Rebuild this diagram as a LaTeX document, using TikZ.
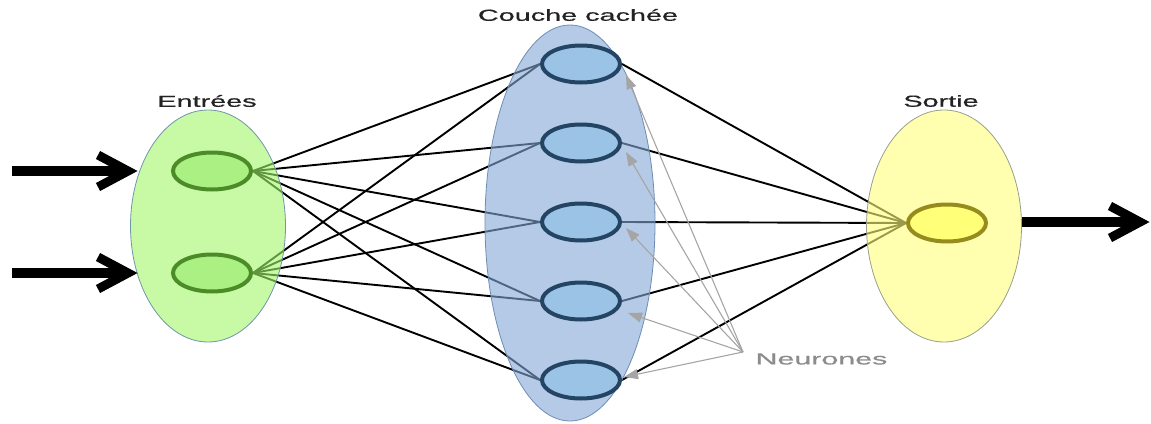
\documentclass[tikz,border=0pt]{standalone}
\usepackage{fontspec}
\setmainfont{Liberation Sans}
\usetikzlibrary{arrows.meta,calc,shapes.geometric}

\definecolor{inShade}{RGB}{163,247,105}
\definecolor{inEdge}{RGB}{110,150,170}
\definecolor{inCell}{RGB}{170,240,130}
\definecolor{inRim}{RGB}{75,140,40}
\definecolor{hidShade}{RGB}{130,167,213}
\definecolor{hidEdge}{RGB}{110,140,180}
\definecolor{hidCell}{RGB}{155,195,230}
\definecolor{hidRim}{RGB}{35,68,98}
\definecolor{outShade}{RGB}{255,255,122}
\definecolor{outEdge}{RGB}{150,160,140}
\definecolor{outCell}{RGB}{255,255,120}
\definecolor{outRim}{RGB}{150,140,30}
\definecolor{labelGray}{RGB}{140,140,140}
\definecolor{pointerGray}{RGB}{165,165,165}
\definecolor{titleInk}{RGB}{35,35,35}

\pgfdeclarelayer{wires}
\pgfdeclarelayer{shade}
\pgfdeclarelayer{pointers}
\pgfsetlayers{wires,shade,main,pointers}

\newcommand{\wide}[2][1.8]{\scalebox{#1}[1]{#2}}

\tikzset{
  layerbox/.style={ellipse, inner sep=0pt, line width=0.8pt, fill opacity=0.6},
  cell/.style={ellipse, inner sep=0pt, minimum width=78pt, minimum height=37pt, line width=4pt},
  wire/.style={line width=1.9pt, black},
  pointer/.style={pointerGray, line width=1.1pt, -{Triangle[length=14pt,width=10pt]}},
  shaft/.style={line width=10pt},
  chevron/.style={line width=9pt, line join=miter, miter limit=10},
  title/.style={text=titleInk, font=\fontsize{16}{19}\selectfont\addfontfeature{FakeBold=0.5}},
}

\begin{document}
\begin{tikzpicture}[x=1pt,y=-1pt]
\useasboundingbox (0,0) rectangle (1151,423);

% neurons
\node[cell, fill=inCell, draw=inRim] (i1) at (212,171) {};
\node[cell, fill=inCell, draw=inRim] (i2) at (212,273) {};
\foreach \k/\y in {1/64,2/143,3/222,4/301,5/380}
  \node[cell, fill=hidCell, draw=hidRim] (h\k) at (581,\y) {};
\node[cell, fill=outCell, draw=outRim] (o) at (947,223) {};

% translucent layer ellipses
\begin{pgfonlayer}{shade}
\node[layerbox, fill=inShade, draw=inEdge, minimum width=155pt, minimum height=232pt] (Lin) at (208,226) {};
\node[layerbox, fill=hidShade, draw=hidEdge, minimum width=170pt, minimum height=396pt] (Lhid) at (570,223) {};
\node[layerbox, fill=outShade, draw=outEdge, minimum width=155pt, minimum height=232pt] (Lout) at (944,226) {};
\end{pgfonlayer}

% connections
\begin{pgfonlayer}{wires}
\foreach \i in {1,2}
  \foreach \k in {1,...,5}
    \draw[wire] (i\i.east) -- (h\k.west);
\foreach \k in {1,...,5}
  \draw[wire] (h\k.east) -- (o.west);
\end{pgfonlayer}

% labels
\node[title] (tin) at (207,101) {\wide{Entrées}};
\node[title] (thid) at (578,15) {\wide{Couche cachée}};
\node[title] (tout) at (941,101) {\wide{Sortie}};
\node[title, text=labelGray, anchor=west] (tneu) at (752,359) {\wide[1.9]{Neurones}};

% input and output arrows: thick shaft with an open chevron head
\coordinate (a1s) at (12,171);
\coordinate (a1e) at (128,171);
\coordinate (a2s) at (12,273);
\coordinate (a2e) at (128,273);
\coordinate (a3s) at (1022,222);
\coordinate (a3e) at (1140,222);
\foreach \n in {1,2,3} {
  \draw[shaft] (a\n s) -- ($(a\n e)+(-4,0)$);
  \draw[chevron] ($(a\n e)+(-30,-16)$) -- (a\n e) -- ($(a\n e)+(-30,16)$);
}

% pointers to the hidden neurons
\coordinate (np) at (743,352);
\begin{pgfonlayer}{pointers}
\draw[pointer] (np) -- ($(h1.east)+(4,11)$);
\draw[pointer] (np) -- ($(h2.east)+(4,9)$);
\draw[pointer] (np) -- ($(h3.east)+(4,6)$);
\draw[pointer] (np) -- ($(h4.east)+(6,12)$);
\draw[pointer] (np) -- ($(h5.east)+(2,-3)$);
\end{pgfonlayer}
\end{tikzpicture}
\end{document}
